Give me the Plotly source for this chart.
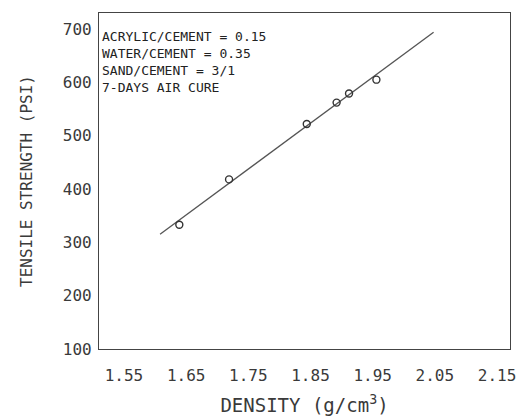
import plotly.graph_objects as go

# Measured data (density g/cm3, tensile strength psi)
density = [1.639, 1.719, 1.844, 1.892, 1.912, 1.956]
strength = [333, 418, 522, 562, 579, 605]

# Fitted line end points
fit_density = [1.608, 2.048]
fit_strength = [315, 694]

x_ticks = [1.55, 1.65, 1.75, 1.85, 1.95, 2.05, 2.15]
y_ticks = [100, 200, 300, 400, 500, 600, 700]

notes = ["ACRYLIC/CEMENT = 0.15", "WATER/CEMENT = 0.35", "SAND/CEMENT = 3/1", "7-DAYS AIR CURE"]

FONT = "DejaVu Sans Mono"
INK = "#3a3a3a"

fig = go.Figure()
fig.add_trace(go.Scatter(x=fit_density, y=fit_strength, mode="lines",
                         line=dict(color="#555555", width=1.3), showlegend=False))
fig.add_trace(go.Scatter(x=density, y=strength, mode="markers",
                         marker=dict(symbol="circle-open", size=7, color="#333333",
                                     line=dict(width=1.4, color="#333333")),
                         showlegend=False))

fig.add_annotation(x=0, y=1, xref="paper", yref="paper", xanchor="left", yanchor="top",
                   xshift=1, yshift=-14, align="left", showarrow=False,
                   text="<br>".join(notes),
                   font=dict(family=FONT, size=13, color="#222222"))

fig.update_layout(
    width=519, height=417,
    margin=dict(l=99, r=9, t=13, b=68, autoexpand=False),
    paper_bgcolor="white", plot_bgcolor="white",
    font=dict(family=FONT, color=INK),
    xaxis=dict(range=[1.5098, 2.1709], tickvals=x_ticks, ticktext=[f"{v:.2f}" for v in x_ticks],
               showgrid=False, zeroline=False, showline=True, mirror=True,
               linecolor="#444444", linewidth=1.2,
               ticks="outside", ticklen=12, tickcolor="rgba(0,0,0,0)",
               tickfont=dict(size=16, family=FONT, color=INK),
               title=dict(text="DENSITY (g/cm<sup>3</sup>)", font=dict(size=19, family=FONT, color=INK),
                          standoff=14)),
    yaxis=dict(range=[100, 730], tickvals=y_ticks,
               showgrid=False, zeroline=False, showline=True, mirror=True,
               linecolor="#444444", linewidth=1.2,
               ticks="outside", ticklen=3, tickcolor="rgba(0,0,0,0)",
               tickfont=dict(size=16, family=FONT, color=INK),
               title=dict(text="TENSILE STRENGTH (PSI)", font=dict(size=16, family=FONT, color=INK),
                          standoff=26)),
)

fig.write_html("out.html", config={"displayModeBar": False},
               post_script="document.body.style.margin='0px';document.body.style.overflow='hidden';")
